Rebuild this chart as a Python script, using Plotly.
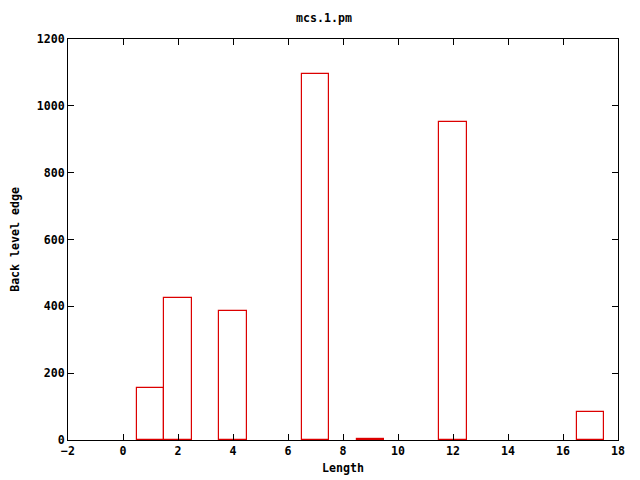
import plotly.graph_objects as go

lengths = [1, 2, 4, 7, 9, 12, 17]
back_level_edge = [155, 424, 385, 1094, 3, 952, 83]

title_text = "mcs.1.pm"
x_title = "Length"
y_title = "Back level edge"

font = dict(family="DejaVu Sans Mono", size=11.6, color="black", weight="bold")

fig = go.Figure()
fig.add_trace(go.Bar(
    x=lengths, y=back_level_edge, width=1,
    marker=dict(color="rgba(255,255,255,0)", line=dict(color="rgb(220,0,0)", width=1.2)),
    showlegend=False,
))

# page body has an 8px margin; size the figure to fit the 640x480 window
fig.update_layout(
    width=632, height=472,
    margin=dict(l=60, r=22, t=31, b=40),
    paper_bgcolor="white", plot_bgcolor="white",
    font=font,
    title=dict(text=title_text, x=0.5, xanchor="center", y=1 - 10 / 472, yanchor="middle",
               font=font),
    bargap=0,
)
fig.update_xaxes(
    range=[-2, 18], dtick=2, tick0=-2, automargin=False,
    ticks="inside", ticklen=6, tickcolor="black",
    showline=True, linecolor="black", linewidth=1, mirror="ticks",
    showgrid=False, zeroline=False,
    title=dict(text=x_title, font=font, standoff=6),
    tickfont=font,
)
fig.update_yaxes(
    range=[0, 1200], dtick=200, automargin=False,
    ticks="inside", ticklen=6, tickcolor="black",
    showline=True, linecolor="black", linewidth=1, mirror="ticks",
    showgrid=False, zeroline=False,
    title=dict(text=y_title, font=font, standoff=14),
    tickfont=font,
)

fig.write_html("out.html")
